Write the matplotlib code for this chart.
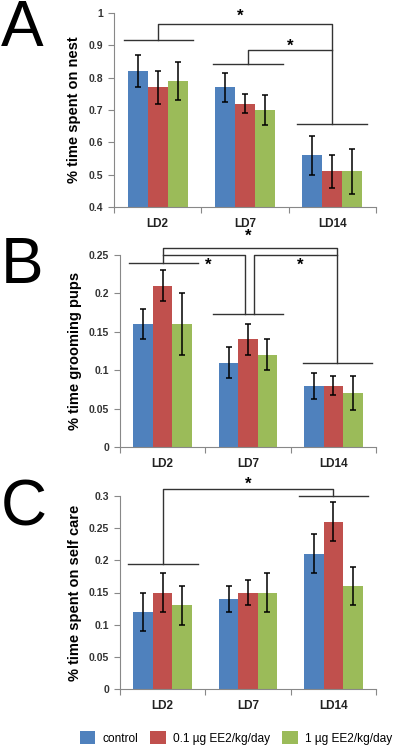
import matplotlib
matplotlib.use('Agg')
import matplotlib.pyplot as plt
from matplotlib.patches import Patch
import numpy as np

plt.rcParams['font.family'] = ['Liberation Sans', 'DejaVu Sans']

days = ['LD2', 'LD7', 'LD14']
groups = ['control', '0.1 \u00b5g EE2/kg/day', '1 \u00b5g EE2/kg/day']
colors = ['#4F81BD', '#C0504D', '#9BBB59']

# panel A - % time spent on nest
nest_mean = [[0.82, 0.77, 0.56], [0.77, 0.72, 0.51], [0.79, 0.70, 0.51]]
nest_err = [[0.05, 0.045, 0.06], [0.05, 0.03, 0.05], [0.06, 0.045, 0.07]]

# panel B - % time grooming pups
groom_mean = [[0.16, 0.11, 0.08], [0.21, 0.14, 0.08], [0.16, 0.12, 0.07]]
groom_err = [[0.02, 0.02, 0.017], [0.02, 0.02, 0.012], [0.04, 0.02, 0.022]]

# panel C - % time spent on self care
self_mean = [[0.12, 0.14, 0.21], [0.15, 0.15, 0.26], [0.13, 0.15, 0.16]]
self_err = [[0.03, 0.02, 0.03], [0.03, 0.02, 0.03], [0.03, 0.03, 0.03]]

W, H = 402, 750
fig = plt.figure(figsize=(W / 100, H / 100), dpi=100)


def px_axes(left, right, top, bottom):
    return fig.add_axes([left / W, 1 - bottom / H, (right - left) / W, (bottom - top) / H])


def bar_panel(ax, means, errs, ylim, yticks, ylabel):
    x = np.arange(len(days))
    bw = 0.228
    for i in range(3):
        ax.bar(x + (i - 1) * bw, means[i], bw, color=colors[i], zorder=2)
        ax.errorbar(x + (i - 1) * bw, means[i], yerr=errs[i], fmt='none',
                    ecolor='black', elinewidth=1.1, capsize=2.5, capthick=1.1, zorder=3)
    ax.set_xlim(-0.5, 2.5)
    ax.set_ylim(*ylim)
    ax.set_yticks(yticks)
    ax.set_yticklabels(['%g' % t for t in yticks], fontsize=7.5, fontweight='bold', color='#333333')
    ax.set_xticks([-0.5, 0.5, 1.5, 2.5])
    ax.set_xticklabels([])
    ax.set_xticks(x, minor=True)
    ax.set_xticklabels(days, minor=True, fontsize=8.5, fontweight='bold', color='#222222')
    ax.tick_params(axis='x', which='minor', length=0, pad=8)
    ax.tick_params(axis='x', which='major', length=4, color='#888888')
    ax.tick_params(axis='y', length=4, color='#888888', pad=4)
    for s in ['top', 'right']:
        ax.spines[s].set_visible(False)
    for s in ['left', 'bottom']:
        ax.spines[s].set_color('#888888')
    ax.set_ylabel(ylabel, fontsize=10.5, fontweight='bold', labelpad=5)


def line(ax, xs, ys):
    ax.plot(xs, ys, color='#333333', lw=1.0, clip_on=False, zorder=4)


def group_line(ax, day, y, lo=-0.40, hi=0.40):
    line(ax, [day + lo, day + hi], [y, y])


def star(ax, x, y):
    ax.text(x, y, '*', ha='center', va='center', fontsize=12, fontweight='bold', clip_on=False)


# ---- A ----
axA = px_axes(114, 376, 13, 207)
bar_panel(axA, nest_mean, nest_err, (0.4, 1.0), [0.4, 0.5, 0.6, 0.7, 0.8, 0.9, 1.0],
          '% time spent on nest')
group_line(axA, 0, 0.915, -0.39, 0.40)
group_line(axA, 1, 0.842, -0.37, 0.43)
group_line(axA, 2, 0.657, -0.40, 0.40)
line(axA, [0, 0, 2, 2], [0.915, 0.966, 0.966, 0.657])
line(axA, [1.03, 1.03, 2], [0.842, 0.886, 0.886])
star(axA, 0.95, 0.99)
star(axA, 1.52, 0.898)

# ---- B ----
axB = px_axes(120, 376, 254.7, 447.3)
bar_panel(axB, groom_mean, groom_err, (0, 0.25), [0, 0.05, 0.1, 0.15, 0.2, 0.25],
          '% time grooming pups')
group_line(axB, 0, 0.239, -0.40, 0.41)
group_line(axB, 1, 0.173, -0.41, 0.41)
group_line(axB, 2, 0.109, -0.35, 0.45)
line(axB, [0, 0, 2.04, 2.04], [0.239, 0.259, 0.259, 0.109])
line(axB, [0, 0.97, 0.97], [0.2496, 0.2496, 0.173])
line(axB, [2.04, 1.07, 1.07], [0.2496, 0.2496, 0.173])
star(axB, 0.53, 0.236)
star(axB, 1.61, 0.236)
star(axB, 1.0, 0.274)

# ---- C ----
axC = px_axes(120, 376, 495.7, 689.3)
bar_panel(axC, self_mean, self_err, (0, 0.3), [0, 0.05, 0.1, 0.15, 0.2, 0.25, 0.3],
          '% time spent on self care')
group_line(axC, 0, 0.194, -0.41, 0.41)
group_line(axC, 2, 0.300, -0.40, 0.41)
line(axC, [0, 0, 2, 2], [0.194, 0.310, 0.310, 0.300])
star(axC, 1.0, 0.318)

# panel letters
for label, ypx in [('A', 29), ('B', 266), ('C', 508)]:
    fig.text(1 / W, 1 - ypx / H, label, fontsize=46, ha='left', va='center')

handles = [Patch(facecolor=c, edgecolor='none') for c in colors]
fig.legend(handles, groups, loc='center', bbox_to_anchor=(236 / W, 1 - 738 / H), ncol=3,
           frameon=False, fontsize=8.6, handlelength=1.3, handleheight=1.3,
           handletextpad=0.6, columnspacing=1.0, borderaxespad=0)

fig.savefig('out.png', dpi=100)
